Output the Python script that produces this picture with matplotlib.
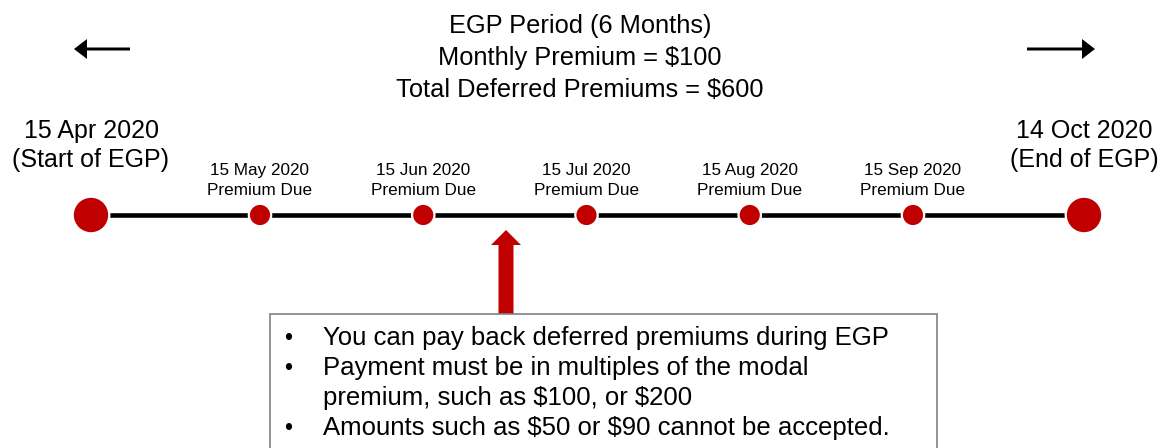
import matplotlib
matplotlib.use("Agg")
import matplotlib.pyplot as plt
from matplotlib.patches import Circle, Rectangle, FancyArrow
import numpy as np

plt.rcParams['font.family'] = ['Liberation Sans', 'DejaVu Sans']
plt.rcParams['text.parse_math'] = False

# ---- data ----
title_lines = ["EGP Period (6 Months)", "Monthly Premium = $100", "Total Deferred Premiums = $600"]
end_dates = ["15 Apr 2020", "14 Oct 2020"]
end_labels = ["(Start of EGP)", "(End of EGP)"]
due_dates = ["15 May 2020", "15 Jun 2020", "15 Jul 2020", "15 Aug 2020", "15 Sep 2020"]
due_label = "Premium Due"
notes = ["You can pay back deferred premiums during EGP",
         "Payment must be in multiples of the modal",
         "premium, such as $100, or $200",
         "Amounts such as $50 or $90 cannot be accepted."]
note_bullets = [True, True, False, True]

RED = "#C00000"
W, H = 1158, 448
fig = plt.figure(figsize=(W / 100, H / 100), dpi=100)
ax = fig.add_axes([0, 0, 1, 1])
ax.set_xlim(0, W)
ax.set_ylim(H, 0)
ax.axis("off")

# timeline positions
x_ends = [91, 1084]
x_due = np.linspace(260, 913, len(due_dates))
y_line = 215

ax.plot(x_ends, [y_line, y_line], color="black", lw=3.3, zorder=1,
        solid_capstyle="butt")

for x in x_ends:
    ax.add_patch(Circle((x, y_line), 18.3, facecolor=RED, edgecolor="white",
                        lw=1.6, zorder=3))
for x in x_due:
    ax.add_patch(Circle((x, y_line), 11.2, facecolor=RED, edgecolor="white",
                        lw=1.6, zorder=3))

# end labels
for x, d, l in zip(x_ends, end_dates, end_labels):
    ax.text(x, 138, d, ha="center", va="baseline", fontsize=18)
    ax.text(x, 167, l, ha="center", va="baseline", fontsize=18)

# due labels
for x, d in zip(x_due, due_dates):
    ax.text(x, 175, d, ha="center", va="baseline", fontsize=12.3)
    ax.text(x, 195, due_label, ha="center", va="baseline", fontsize=12.3)

# title
for k, t in enumerate(title_lines):
    ax.text(580, 33 + 32 * k, t, ha="center", va="baseline", fontsize=18.3)

# top direction arrows
ax.add_patch(FancyArrow(130, 49, -56, 0, width=3, head_width=20, head_length=13,
                        length_includes_head=True, color="black", lw=0))
ax.add_patch(FancyArrow(1027, 49, 68, 0, width=3, head_width=20, head_length=13,
                        length_includes_head=True, color="black", lw=0))

# red arrow
ax.add_patch(FancyArrow(506, 320, 0, -90, width=15, head_width=30, head_length=15,
                        length_includes_head=True, color=RED, lw=0, zorder=2))

# note box
ax.add_patch(Rectangle((270, 314), 667, 200, facecolor="white", edgecolor="#808080",
                       lw=1.2, zorder=4, clip_on=True))
for k, (t, b) in enumerate(zip(notes, note_bullets)):
    yb = 345 + 30 * k
    if b:
        ax.text(288, yb, "•", ha="center", va="baseline", fontsize=16.5, zorder=5)
    ax.text(323, yb, t, ha="left", va="baseline", fontsize=18.5, zorder=5)

fig.savefig("out.png", dpi=100)
